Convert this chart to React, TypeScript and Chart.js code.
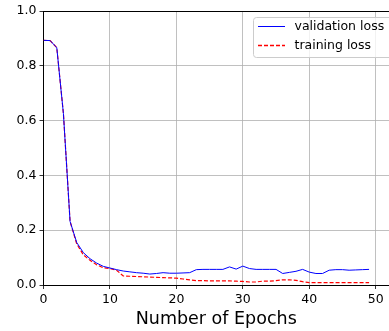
import React, { useEffect, useRef } from "react";
import { Chart, registerables } from "chart.js";

Chart.register(...registerables);

const epochs = Array.from({ length: 50 }, (_, i) => i);

const validationLoss = [
  0.893, 0.892, 0.866, 0.625, 0.232, 0.155, 0.118, 0.096, 0.080, 0.068,
  0.062, 0.056, 0.051, 0.048, 0.045, 0.043, 0.040, 0.042, 0.045, 0.043,
  0.043, 0.044, 0.045, 0.056, 0.057, 0.057, 0.057, 0.057, 0.066, 0.058,
  0.069, 0.060, 0.057, 0.057, 0.057, 0.057, 0.042, 0.046, 0.050, 0.057,
  0.047, 0.042, 0.042, 0.054, 0.056, 0.056, 0.054, 0.055, 0.056, 0.057,
];

const trainingLoss = [
  0.893, 0.892, 0.866, 0.625, 0.232, 0.150, 0.110, 0.090, 0.074, 0.063,
  0.060, 0.054, 0.033, 0.032, 0.031, 0.030, 0.029, 0.028, 0.027, 0.026,
  0.025, 0.022, 0.019, 0.016, 0.016, 0.015, 0.015, 0.015, 0.015, 0.014,
  0.013, 0.011, 0.011, 0.014, 0.014, 0.016, 0.019, 0.019, 0.017, 0.012,
  0.009, 0.009, 0.009, 0.009, 0.009, 0.009, 0.009, 0.009, 0.009, 0.009,
];

const seriesLabels = ["validation loss", "training loss"];
const seriesColors = ["#0000ff", "#ff0000"];
const seriesDashes: number[][] = [[], [4, 2]];
const xTitle = "Number of Epochs";

const FONT = "'DejaVu Sans', sans-serif";

const overlayPlugin = {
  id: "overlay",
  afterDraw(chart: any) {
    const { ctx, chartArea } = chart;
    ctx.save();
    // top spine
    ctx.strokeStyle = "#000";
    ctx.lineWidth = 1;
    ctx.beginPath();
    ctx.moveTo(chartArea.left, chartArea.top + 0.5);
    ctx.lineTo(chartArea.right, chartArea.top + 0.5);
    ctx.stroke();

    // legend box
    const bx = 253.5, by = 17.5, bw = 150, bh = 40, r = 3;
    ctx.fillStyle = "rgba(255,255,255,0.8)";
    ctx.strokeStyle = "#cccccc";
    ctx.lineWidth = 1;
    ctx.beginPath();
    ctx.moveTo(bx + r, by);
    ctx.lineTo(bx + bw - r, by);
    ctx.arcTo(bx + bw, by, bx + bw, by + r, r);
    ctx.lineTo(bx + bw, by + bh - r);
    ctx.arcTo(bx + bw, by + bh, bx + bw - r, by + bh, r);
    ctx.lineTo(bx + r, by + bh);
    ctx.arcTo(bx, by + bh, bx, by + bh - r, r);
    ctx.lineTo(bx, by + r);
    ctx.arcTo(bx, by, bx + r, by, r);
    ctx.closePath();
    ctx.fill();
    ctx.stroke();

    const rows = [26.5, 45.5];
    seriesLabels.forEach((label, i) => {
      const y = rows[i];
      ctx.strokeStyle = seriesColors[i];
      ctx.lineWidth = i === 1 ? 1.4 : 1;
      ctx.setLineDash(seriesDashes[i]);
      ctx.beginPath();
      ctx.moveTo(258, y);
      ctx.lineTo(285, y);
      ctx.stroke();
      ctx.setLineDash([]);
      ctx.fillStyle = "#000";
      ctx.font = `12.5px ${FONT}`;
      ctx.textBaseline = "middle";
      ctx.textAlign = "left";
      ctx.fillText(label, 294.5, y);
    });
    ctx.restore();
  },
};

export default function App() {
  const ref = useRef<HTMLCanvasElement | null>(null);
  useEffect(() => {
    document.body.style.margin = "0";
    const chart = new Chart(ref.current as HTMLCanvasElement, {
      type: "line",
      data: {
        datasets: [
          {
            label: seriesLabels[0],
            data: epochs.map((e, i) => ({ x: e, y: validationLoss[i] })),
            borderColor: seriesColors[0],
            borderWidth: 1,
            pointRadius: 0,
            tension: 0,
            fill: false,
          },
          {
            label: seriesLabels[1],
            data: epochs.map((e, i) => ({ x: e, y: trainingLoss[i] })),
            borderColor: seriesColors[1],
            borderWidth: 1.2,
            borderDash: seriesDashes[1],
            pointRadius: 0,
            tension: 0,
            fill: false,
          },
        ],
      },
      options: {
        animation: false,
        responsive: false,
        devicePixelRatio: 1,
        layout: { padding: { top: 11, right: 0, left: 0, bottom: 0 } },
        plugins: {
          legend: { display: false },
          tooltip: { enabled: false },
        },
        scales: {
          x: {
            type: "linear",
            min: 0,
            max: 52,
            afterFit: (s: any) => {
              s.height = 46;
            },
            ticks: {
              stepSize: 10,
              includeBounds: false,
              color: "#000",
              padding: 3,
              maxRotation: 0,
              font: { family: FONT, size: 12.5 },
            },
            grid: {
              color: "#b0b0b0",
              lineWidth: 0.8,
              tickColor: "#000",
              tickLength: 4,
            },
            border: { color: "#000", width: 1 },
            title: {
              display: true,
              text: xTitle,
              color: "#000",
              font: { family: FONT, size: 17.5 },
              padding: { top: 0, bottom: 1 },
            },
          },
          y: {
            min: 0,
            max: 1,
            afterFit: (s: any) => {
              s.width = 43.5;
            },
            ticks: {
              stepSize: 0.2,
              color: "#000",
              padding: 3,
              font: { family: FONT, size: 12.5 },
              callback: (v: any) => Number(v).toFixed(1),
            },
            grid: {
              color: "#b0b0b0",
              lineWidth: 0.8,
              tickColor: "#000",
              tickLength: 4,
            },
            border: { color: "#000", width: 1 },
          },
        },
      },
      plugins: [overlayPlugin],
    } as any);
    return () => chart.destroy();
  }, []);
  return (
    <div style={{ position: "fixed", left: 0, top: 0, width: 389, height: 331, background: "#fff" }}>
      <canvas ref={ref} width={389} height={331} />
    </div>
  );
}
